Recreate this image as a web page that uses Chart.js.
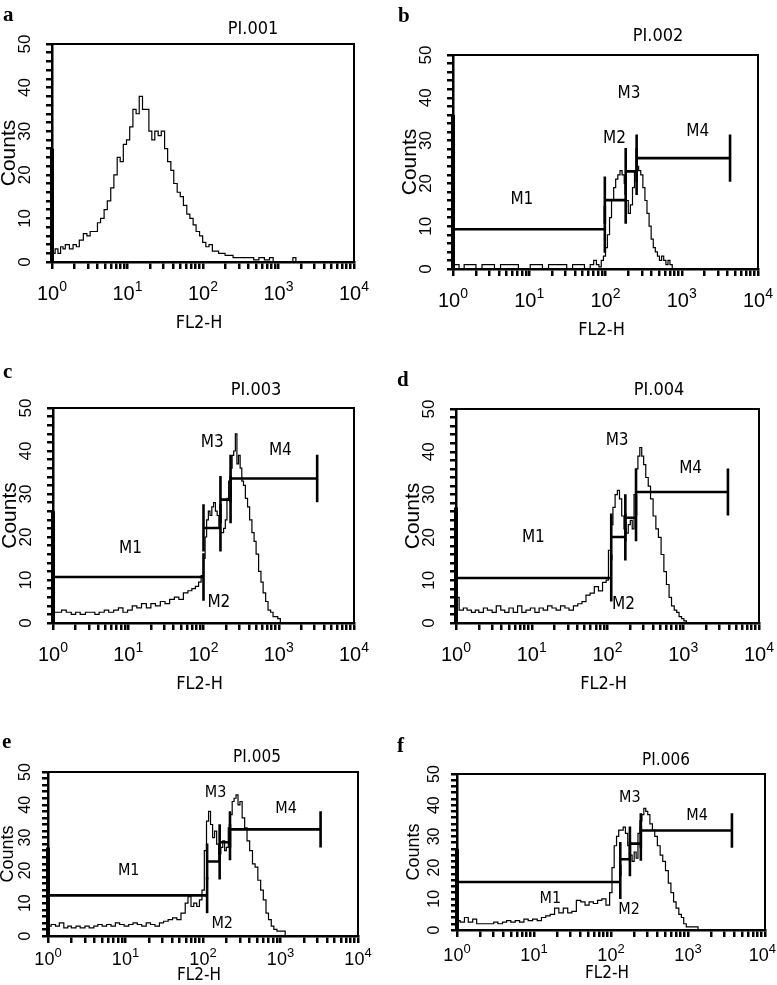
<!DOCTYPE html>
<html>
<head>
<meta charset="utf-8">
<script src="https://cdn.jsdelivr.net/npm/chart.js@4.4.1/dist/chart.umd.min.js"></script>
<style>
  html, body { margin: 0; padding: 0; background: #fff; }
  #page { position: relative; width: 777px; height: 985px; overflow: hidden; }
  #page canvas { position: absolute; }
</style>
</head>
<body>
<div id="page"></div>
<script>
// FL2-H channel positions and counts
const fl2A = [1, 1.1, 1.2, 1.3, 1.4, 1.5, 1.7, 1.9, 2.1, 2.3, 2.6, 2.9, 3.2, 3.6, 4, 4.4, 4.9, 5.4, 6, 6.6, 7.3, 8, 8.8, 9.7, 10.7, 11.8, 13, 14.3, 15.8, 17.4, 19.2, 21, 23, 25.5, 28, 31, 34, 37.5, 41, 45.5, 50, 55, 61, 67, 74, 81, 90, 99, 109, 120, 133, 146, 161, 178, 196, 216, 250, 290, 340, 400, 470, 550, 650, 760, 850, 950, 1100, 1300, 1550, 1700, 1850, 2200, 3000, 5000, 10000];
const countsA = [26, 2, 3, 2, 3.5, 3, 4, 3, 4, 3.5, 5, 6.5, 6, 7, 7, 9, 10, 12, 14, 17, 20, 24, 23, 27, 28, 31, 35, 34, 38, 35, 35, 30, 28, 30, 29, 30, 26, 23, 21, 18, 16, 15, 13, 11, 10, 8.5, 7, 6, 4.5, 3.5, 4, 2.5, 2.5, 2, 2, 1.5, 1.5, 1, 1, 1, 1, 0.5, 1, 0.5, 1, 0, 0, 0, 0, 1, 0, 0, 0, 0, 0];

const fl2B = [1, 1.2, 1.4, 1.7, 2, 2.4, 2.9, 3.5, 4.2, 5, 6, 7.2, 8.6, 10.3, 12.4, 14.9, 17.9, 21.5, 25.8, 31, 37, 44, 53, 63, 70, 76, 82, 88, 94, 100, 106, 113, 120, 128, 136, 145, 155, 165, 176, 187, 199, 212, 226, 240, 256, 272, 290, 309, 329, 350, 373, 397, 423, 450, 480, 510, 545, 580, 620, 660, 700, 750, 800, 850, 1000, 2000, 5000, 10000];
const countsB = [36, 1, 0, 1, 1, 0, 1, 1, 0, 1, 1, 1, 0, 0, 1, 1, 0, 1, 1, 1, 0, 1, 1, 0, 1, 2, 1, 0.5, 2, 3, 5, 8, 12, 16, 19, 21, 22, 23, 22, 20, 16, 13, 15, 19, 23, 24, 23, 22, 19, 16, 13, 10, 7, 5, 4, 3, 2, 3, 2, 1, 2, 1, 0, 0, 0, 0, 0, 0];

const fl2C = [1, 1.15, 1.3, 1.5, 1.75, 2, 2.3, 2.7, 3.1, 3.6, 4.1, 4.8, 5.5, 6.4, 7.4, 8.5, 9.8, 11.3, 13, 15, 17.4, 20, 23, 26.7, 30.8, 35.5, 41, 47, 54, 62, 70, 78, 86, 93, 100, 105, 110, 116, 122, 129, 136, 144, 152, 160, 168, 176, 185, 195, 205, 216, 228, 240, 252, 265, 278, 292, 307, 323, 340, 360, 385, 410, 440, 470, 500, 540, 580, 620, 670, 720, 780, 840, 900, 970, 1050, 1100, 2000, 5000, 10000];
const countsC = [26, 2.5, 2.5, 3, 2.5, 2, 2.5, 2, 2.5, 2.5, 2, 2.5, 3, 2.5, 3, 3.5, 2.5, 3, 4, 3.5, 4.5, 3.5, 4.5, 4, 5, 4.5, 5.5, 6, 5.5, 7, 7.5, 8, 8.5, 9.5, 11, 15, 20, 24, 26, 25, 27, 28, 26, 25, 22, 21, 21, 22, 24, 29, 33, 36, 39, 40, 44, 37, 39, 36, 33, 32, 29, 27, 24, 21, 19, 16, 12, 9.5, 7, 5, 3, 2.5, 1.5, 1.5, 1, 0, 0, 0, 0];

const fl2D = [1, 1.1, 1.25, 1.4, 1.6, 1.8, 2, 2.3, 2.6, 3, 3.4, 3.9, 4.4, 5, 5.7, 6.5, 7.4, 8.4, 9.6, 11, 12.5, 14.2, 16.2, 18.5, 21, 24, 27.4, 31, 35.5, 40.5, 46, 52, 59, 67, 76, 86, 96, 103, 110, 118, 126, 135, 144, 154, 165, 176, 188, 200, 212, 224, 238, 252, 267, 283, 300, 320, 345, 370, 400, 435, 470, 510, 555, 600, 650, 700, 760, 820, 880, 950, 1020, 1100, 1200, 2000, 5000, 10000];
const countsD = [27, 6, 3, 3.5, 3, 2.5, 3, 2.5, 3.5, 3, 2.5, 4, 3, 2.5, 3.5, 2.5, 4, 2.5, 3, 3.5, 2.5, 3.5, 3, 4, 3.5, 3, 4, 3.5, 3, 4, 4.5, 5, 6.5, 7, 8.5, 7.5, 9.5, 10, 17, 23, 27, 30, 31, 29, 25, 22, 21, 23, 24, 22, 30, 36, 39, 41, 39, 37, 34, 32, 29, 25, 22, 20, 16, 12, 9, 6, 4, 3, 2.5, 1.5, 1, 0.5, 0, 0, 0, 0];

const fl2E = [1, 1.1, 1.25, 1.4, 1.6, 1.8, 2, 2.3, 2.6, 3, 3.4, 3.9, 4.4, 5, 5.7, 6.5, 7.4, 8.4, 9.6, 11, 12.5, 14.2, 16.2, 18.5, 21, 24, 27.4, 31, 35.5, 40.5, 46, 52, 59, 64, 70, 76, 83, 90, 97, 104, 111, 118, 125, 133, 141, 150, 160, 170, 180, 190, 200, 212, 224, 238, 252, 267, 283, 300, 320, 345, 370, 400, 435, 470, 510, 555, 600, 650, 700, 760, 820, 900, 1000, 1150, 1400, 2000, 5000, 10000];
const countsE = [27, 3, 3.5, 3, 4, 2.5, 3, 2.5, 3, 2.5, 3, 2.5, 3, 3.5, 3, 3.5, 3, 4, 3.5, 3, 3.5, 4, 3.5, 3, 4, 3.5, 3, 4, 4.5, 5, 5.5, 5, 7, 10, 12, 9, 10, 9, 11, 14, 26, 35, 38, 34, 30, 32, 28, 25, 27, 29, 26, 27, 33, 37, 41, 42, 43, 40, 41, 36, 33, 29, 26, 22, 21, 17, 14, 11, 7, 5, 3, 2, 1.5, 1.5, 0, 0, 0, 0];

const fl2F = [1, 1.1, 1.25, 1.4, 1.6, 1.8, 2, 2.3, 2.6, 3, 3.4, 3.9, 4.4, 5, 5.7, 6.5, 7.4, 8.4, 9.6, 11, 12.5, 14.2, 16.2, 18.5, 21, 24, 27.4, 31, 35.5, 40.5, 46, 52, 59, 67, 76, 86, 96, 103, 110, 118, 126, 135, 144, 154, 165, 176, 188, 200, 212, 224, 238, 252, 267, 283, 300, 320, 345, 370, 400, 435, 470, 510, 555, 600, 650, 700, 760, 820, 880, 950, 1020, 1100, 1200, 1350, 1500, 2000, 5000, 10000];
const countsF = [26, 3, 2.5, 4, 2.5, 3.5, 2, 2, 2, 2, 2.5, 2, 2.5, 3, 2.5, 3, 2.5, 3.5, 3, 3.5, 3, 4, 4.5, 5, 7, 5.5, 7, 5.5, 6, 9.5, 9, 8, 9, 8.5, 9.5, 10, 8, 12, 20, 27, 30, 32, 32, 33, 31, 27, 24, 22, 25, 23, 31, 35, 37, 39, 38, 37, 34, 32, 30, 27, 24, 22, 19, 15, 12, 9, 7, 5, 4, 2, 1, 1, 1, 1, 0, 0, 0, 0];

// marker gates: [start, end, level]
const markersB = [[1, 98, 9.3], [98, 184, 16.1], [184, 256, 22.8], [256, 4300, 25.9]];
const markersC = [[1, 100, 10.7], [100, 168, 22.1], [168, 229, 28.7], [229, 3240, 33.6]];
const markersD = [[1, 112, 10.5], [112, 172, 20.1], [172, 238, 24.6], [238, 3890, 30.6]];
const markersE = [[1, 113, 12.4], [113, 164, 22.7], [164, 223, 28.6], [223, 3290, 32.5]];
const markersF = [[1, 132, 15.4], [132, 176, 22.7], [176, 244, 27.7], [244, 3720, 31.9]];
const markerNames = ['M1', 'M2', 'M3', 'M4'];

// axis ticks
const xTicks = [1, 2, 3, 4, 5, 6, 7, 8, 9, 10, 20, 30, 40, 50, 60, 70, 80, 90, 100, 200, 300, 400, 500, 600, 700, 800, 900, 1000, 2000, 3000, 4000, 5000, 6000, 7000, 8000, 9000, 10000];
const decadeTicks = [1, 10, 100, 1000, 10000];
const decadeExp = ['0', '1', '2', '3', '4'];
const yTicks = [0, 2, 4, 6, 8, 10, 12, 14, 16, 18, 20, 22, 24, 26, 28, 30, 32, 34, 36, 38, 40, 42, 44, 46, 48, 50];
const countLabels = [0, 10, 20, 30, 40, 50];

const SANS = '"Liberation Sans", Arial, Helvetica, sans-serif';
const NARROW = '"Liberation Sans Narrow", "DejaVu Sans Condensed", "Arial Narrow", sans-serif';
const SERIF = '"Liberation Serif", "Times New Roman", serif';
const BAR_HALF = 5.5;

const bigFonts = { letter: 21, title: 18, counts: 21, ytick: 17, xtick: 20, xexp: 14, fl2: 18, mark: 17 };
const smallFonts = { letter: 21, title: 17, counts: 18, ytick: 16, xtick: 18, xexp: 13, fl2: 17, mark: 16 };

const panels = [
  { id: 'a', title: 'PI.001', fl2: fl2A, counts: countsA, markers: null, marks: null,
    box: [0, 0, 390, 340], frame: [52, 44, 354, 262], letter: [3, 21], titleAt: [253, 29],
    countsX: 9, yLab: 27, xLab: 38, fl2Y: 323, fonts: bigFonts },
  { id: 'b', title: 'PI.002', fl2: fl2B, counts: countsB, markers: markersB,
    marks: [[8, 16.3], [131, 30.5], [203, 41.1], [1620, 32]],
    box: [390, 0, 387, 340], frame: [453, 55, 758, 269], letter: [398, 22], titleAt: [658, 36],
    countsX: 410, yLab: 27, xLab: 38, fl2Y: 330, fonts: bigFonts },
  { id: 'c', title: 'PI.003', fl2: fl2C, counts: countsC, markers: markersC,
    marks: [[10.7, 17.2], [160, 4.7], [131, 42], [1050, 40.2]],
    box: [0, 340, 390, 360], frame: [53, 408, 354, 623], letter: [3, 378], titleAt: [256, 390],
    countsX: 10, yLab: 27, xLab: 38, fl2Y: 684, fonts: bigFonts },
  { id: 'd', title: 'PI.004', fl2: fl2D, counts: countsD, markers: markersD,
    marks: [[10.5, 20], [163, 4.3], [134, 42.6], [1250, 36]],
    box: [390, 340, 387, 360], frame: [456, 409, 759, 623], letter: [397, 386], titleAt: [659, 390],
    countsX: 413, yLab: 27, xLab: 38, fl2Y: 684, fonts: bigFonts },
  { id: 'e', title: 'PI.005', fl2: fl2E, counts: countsE, markers: markersE,
    marks: [[11, 20], [177, 3.6], [145, 43.6], [1180, 38.7]],
    box: [0, 700, 390, 285], frame: [48, 772, 358, 936], letter: [2, 748], titleAt: [257, 758],
    countsX: 8, yLab: 22, xLab: 29, fl2Y: 976, fonts: smallFonts },
  { id: 'f', title: 'PI.006', fl2: fl2F, counts: countsF, markers: markersF,
    marks: [[16.3, 9.9], [172, 6.4], [176, 42.5], [1310, 36.7]],
    box: [390, 700, 387, 285], frame: [457, 774, 765, 930], letter: [397, 752], titleAt: [666, 761],
    countsX: 414, yLab: 22, xLab: 31, fl2Y: 974, fonts: smallFonts }
];

const panelText = {
  id: 'panelText',
  afterDraw(chart) {
    const p = chart.options.plugins.panelText.panel;
    const f = p.fonts;
    const ctx = chart.ctx;
    const { left, top, right, bottom } = chart.chartArea;
    const xs = chart.scales.x, ys = chart.scales.y;
    const ox = p.box[0], oy = p.box[1];
    ctx.save();
    ctx.strokeStyle = '#000';
    ctx.lineWidth = 2;
    ctx.strokeRect(left, top, right - left, bottom - top);
    ctx.fillStyle = '#000';

    ctx.font = `bold ${f.letter}px ${SERIF}`;
    ctx.textAlign = 'left';
    ctx.textBaseline = 'alphabetic';
    ctx.fillText(p.id, p.letter[0] - ox, p.letter[1] - oy);

    ctx.textAlign = 'center';
    ctx.textBaseline = 'middle';
    ctx.font = `${f.title}px ${NARROW}`;
    ctx.fillText(p.title, p.titleAt[0] - ox, p.titleAt[1] - oy);

    ctx.font = `${f.ytick}px ${SANS}`;
    countLabels.forEach(v => {
      ctx.save();
      ctx.translate(left - p.yLab, ys.getPixelForValue(v));
      ctx.rotate(-Math.PI / 2);
      ctx.fillText(String(v), 0, 0);
      ctx.restore();
    });

    ctx.save();
    ctx.font = `${f.counts}px ${SANS}`;
    ctx.translate(p.countsX - ox, (top + bottom) / 2);
    ctx.rotate(-Math.PI / 2);
    ctx.fillText('Counts', 0, 0);
    ctx.restore();

    ctx.textAlign = 'left';
    ctx.textBaseline = 'alphabetic';
    decadeTicks.forEach((v, i) => {
      const x = xs.getPixelForValue(v);
      const base = bottom + p.xLab;
      ctx.font = `${f.xtick}px ${SANS}`;
      const w1 = ctx.measureText('10').width;
      ctx.font = `${f.xexp}px ${SANS}`;
      const w2 = ctx.measureText(decadeExp[i]).width;
      let x0 = x - (w1 + w2) / 2;
      // keep the last label inside the canvas
      x0 = Math.min(x0, chart.width - (w1 + w2) - 1);
      ctx.font = `${f.xtick}px ${SANS}`;
      ctx.fillText('10', x0, base);
      ctx.font = `${f.xexp}px ${SANS}`;
      ctx.fillText(decadeExp[i], x0 + w1, base - f.xtick * 0.45);
    });

    ctx.textAlign = 'center';
    ctx.textBaseline = 'middle';
    ctx.font = `${f.fl2}px ${NARROW}`;
    ctx.fillText('FL2-H', (left + right) / 2 - 4, p.fl2Y - oy);

    if (p.marks) {
      ctx.font = `${f.mark}px ${NARROW}`;
      p.marks.forEach((m, i) => {
        ctx.fillText(markerNames[i], xs.getPixelForValue(m[0]), ys.getPixelForValue(m[1]));
      });
    }
    ctx.restore();
  }
};

function gatePath(g) {
  const [x1, x2, lv] = g;
  return [
    { x: x1, y: lv + BAR_HALF }, { x: x1, y: lv - BAR_HALF }, { x: x1, y: lv },
    { x: x2, y: lv }, { x: x2, y: lv + BAR_HALF }, { x: x2, y: lv - BAR_HALF }
  ];
}

const page = document.getElementById('page');
panels.forEach(p => {
  const [bx, by, bw, bh] = p.box;
  const [fl, ft, fr, fb] = p.frame;
  const canvas = document.createElement('canvas');
  canvas.width = bw;
  canvas.height = bh;
  canvas.style.left = bx + 'px';
  canvas.style.top = by + 'px';
  canvas.style.width = bw + 'px';
  canvas.style.height = bh + 'px';
  page.appendChild(canvas);

  const TICK_X = 7, TICK_Y = 6;
  const datasets = [
    { data: p.fl2.map((x, i) => ({ x, y: p.counts[i] })), borderColor: '#000', borderWidth: 1.2,
      stepped: 'after', pointRadius: 0, clip: false },
    { data: [{ x: p.fl2[0], y: 0 }, { x: p.fl2[0], y: p.counts[0] }], borderColor: '#000',
      borderWidth: 4, pointRadius: 0, clip: false }
  ];
  if (p.markers) {
    p.markers.forEach(g => datasets.push({ data: gatePath(g), borderColor: '#000', borderWidth: 2.6,
      pointRadius: 0, clip: false, tension: 0 }));
  }

  new Chart(canvas, {
    type: 'line',
    data: { datasets },
    options: {
      responsive: false,
      animation: false,
      devicePixelRatio: 1,
      layout: { padding: { left: fl - bx - TICK_Y, top: ft - by, right: bx + bw - fr, bottom: by + bh - fb - TICK_X } },
      plugins: { legend: { display: false }, tooltip: { enabled: false }, panelText: { panel: p } },
      scales: {
        x: {
          type: 'logarithmic', min: 1, max: 10000,
          afterBuildTicks: s => { s.ticks = xTicks.map(v => ({ value: v })); },
          afterFit: s => { s.height = TICK_X; },
          ticks: { display: false },
          border: { display: true, color: '#000', width: 2.5 },
          grid: { drawOnChartArea: false, drawTicks: true, tickLength: TICK_X, color: '#000', tickColor: '#000',
            lineWidth: 2.5, tickWidth: 2.5 }
        },
        y: {
          type: 'linear', min: 0, max: 50,
          afterBuildTicks: s => { s.ticks = yTicks.map(v => ({ value: v })); },
          afterFit: s => { s.width = TICK_Y; },
          ticks: { display: false },
          border: { display: true, color: '#000', width: 2.5 },
          grid: { drawOnChartArea: false, drawTicks: true, tickLength: TICK_Y, color: '#000', tickColor: '#000',
            lineWidth: 2.5, tickWidth: 2.5 }
        }
      }
    },
    plugins: [panelText]
  });
});
</script>
</body>
</html>
